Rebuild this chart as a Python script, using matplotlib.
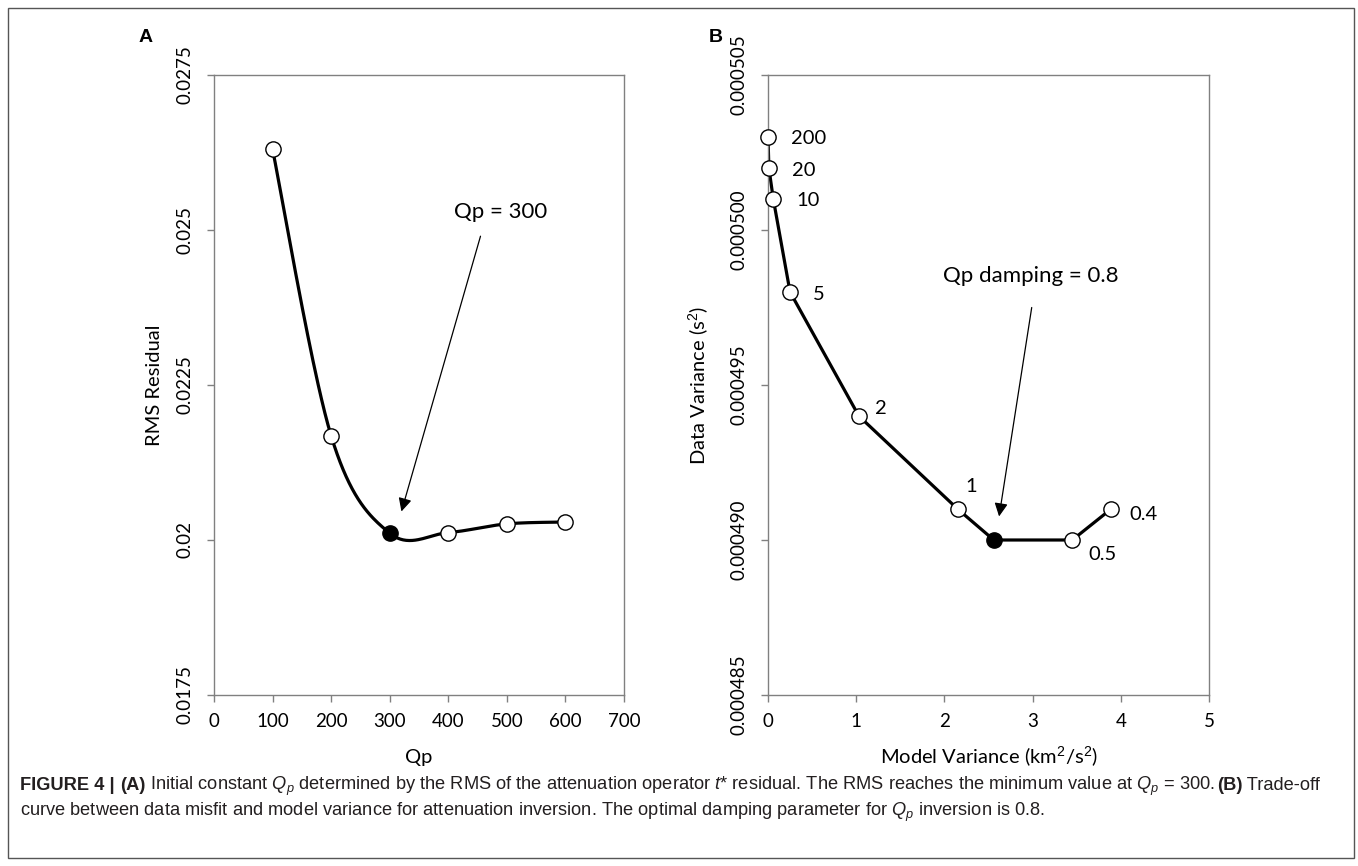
import matplotlib
matplotlib.use("Agg")
import matplotlib.pyplot as plt
import numpy as np
from matplotlib.patches import Rectangle

# ---------------- data ----------------
qp_values = [100, 200, 300, 400, 500, 600]
rms_residual = [0.0263, 0.02168, 0.02011, 0.02012, 0.02026, 0.02029]
qp_best_index = 2

model_variance = [0.0, 0.01, 0.06, 0.25, 1.03, 2.15, 2.56, 3.45, 3.89]
data_variance = [0.000503, 0.000502, 0.000501, 0.000498, 0.000494,
                 0.000491, 0.000490, 0.000490, 0.000491]
damping_labels = ['200', '20', '10', '5', '2', '1', '0.8', '0.5', '0.4']
damping_best_index = 6

a_xticks = [0, 100, 200, 300, 400, 500, 600, 700]
a_yticks = [0.0175, 0.02, 0.0225, 0.025, 0.0275]
a_yticklabels = ['0.0175', '0.02', '0.0225', '0.025', '0.0275']
b_xticks = [0, 1, 2, 3, 4, 5]
b_yticks = [0.000485, 0.000490, 0.000495, 0.000500, 0.000505]
b_yticklabels = ['0.000485', '0.000490', '0.000495', '0.000500', '0.000505']

caption_line1 = [("FIGURE 4 | ", True), ("(A)", True),
                 (" Initial constant $Q_p$ determined by the RMS of the attenuation operator $t$* residual. "
                  "The RMS reaches the minimum value at $Q_p$ = 300. ", False), ("(B)", True), (" Trade-off", False)]
caption_line2 = "curve between data misfit and model variance for attenuation inversion. The optimal damping parameter for $Q_p$ inversion is 0.8."

# ---------------- style ----------------
FONT = ['Lato', 'DejaVu Sans']
plt.rcParams['font.family'] = FONT
plt.rcParams['mathtext.fontset'] = 'custom'
plt.rcParams['mathtext.it'] = 'Liberation Sans:italic'
plt.rcParams['mathtext.rm'] = 'Liberation Sans'

SPINE = '#808080'

fig = plt.figure(figsize=(13.58, 8.66), dpi=100)
W, H = 1358, 866

def px_axes(l, t, r, b):
    return fig.add_axes([l / W, 1 - b / H, (r - l) / W, (b - t) / H])

A_L, A_R, B_L, B_R, TOP, BOT = 214, 624, 768, 1209, 75, 695
axA = px_axes(A_L, TOP, A_R, BOT)
axB = px_axes(B_L, TOP, B_R, BOT)


def catmull_rom(x, y, n=40):
    x = np.asarray(x, float); y = np.asarray(y, float)
    xs = (x - x.min()) / (x.max() - x.min())
    ys = (y - y.min()) / (y.max() - y.min())
    P = np.column_stack([xs, ys])
    P_ext = np.vstack([P[0], P, P[-1]])
    out = []
    for i in range(len(P) - 1):
        p0, p1, p2, p3 = P_ext[i], P_ext[i + 1], P_ext[i + 2], P_ext[i + 3]
        c1 = p1 + (p2 - p0) / 6
        c2 = p2 - (p3 - p1) / 6
        t = np.linspace(0, 1, n)[:, None]
        seg = (1 - t) ** 3 * p1 + 3 * (1 - t) ** 2 * t * c1 + 3 * (1 - t) * t ** 2 * c2 + t ** 3 * p2
        out.append(seg if i == 0 else seg[1:])
    S = np.vstack(out)
    return (S[:, 0] * (x.max() - x.min()) + x.min(),
            S[:, 1] * (y.max() - y.min()) + y.min())


def style_axes(ax):
    for s in ax.spines.values():
        s.set_color(SPINE)
        s.set_linewidth(1.0)
    ax.tick_params(direction='out', length=5, width=1.0, color=SPINE,
                   labelsize=13.5, labelcolor='black')
    ax.tick_params(axis='y', pad=16)
    ax.tick_params(axis='x', pad=8)
    for lab in ax.get_yticklabels():
        lab.set_rotation(90)
        lab.set_va('center')
        lab.set_ha('center')


def fig_to_axes(ax, px, py):
    # figure pixel (from top-left) -> axes fraction
    x0, x1 = ax.get_position().x0 * W, ax.get_position().x1 * W
    y0, y1 = (1 - ax.get_position().y1) * H, (1 - ax.get_position().y0) * H
    return (px - x0) / (x1 - x0), (y1 - py) / (y1 - y0)

# ---------------- panel A ----------------
sx, sy = catmull_rom(qp_values, rms_residual)
axA.plot(sx, sy, color='black', lw=2.3, zorder=2)
for i, (xv, yv) in enumerate(zip(qp_values, rms_residual)):
    fc = 'black' if i == qp_best_index else 'white'
    axA.plot([xv], [yv], marker='o', ms=11, mfc=fc, mec='black', mew=1.0, zorder=3)
axA.set_xlim(0, 700)
axA.set_ylim(0.0175, 0.0275)
axA.set_xticks(a_xticks)
axA.set_yticks(a_yticks)
axA.set_yticklabels(a_yticklabels)
style_axes(axA)
axA.set_xlabel('Qp', fontsize=14.5)
axA.set_ylabel('RMS Residual', fontsize=14.5)
axA.xaxis.set_label_coords(*fig_to_axes(axA, (A_L + A_R) / 2, 757))
axA.yaxis.set_label_coords(*fig_to_axes(axA, 154, (TOP + BOT) / 2))
axA.xaxis.label.set_va('center')
axA.yaxis.label.set_va('center')
axA.annotate('', xy=(320, 0.02046), xytext=(455, 0.0249),
             arrowprops=dict(arrowstyle='-|>', color='black', lw=0.9,
                             mutation_scale=20, shrinkA=0, shrinkB=0))
axA.text(490, 0.02529, 'Qp = 300', fontsize=16, ha='center', va='center')

# ---------------- panel B ----------------
axB.plot(model_variance, data_variance, color='black', lw=2.3, zorder=2)
for i, (xv, yv) in enumerate(zip(model_variance, data_variance)):
    fc = 'black' if i == damping_best_index else 'white'
    axB.plot([xv], [yv], marker='o', ms=11, mfc=fc, mec='black', mew=1.0,
             zorder=3, clip_on=False)
label_offsets = {0: (23, -2), 1: (23, -2), 2: (23, -2), 3: (23, -2),
                 4: (16, 7), 5: (8, 22), 7: (16, -14), 8: (18, -5)}
for i, lab in enumerate(damping_labels):
    if i not in label_offsets:
        continue
    dx, dy = label_offsets[i]
    axB.annotate(lab, (model_variance[i], data_variance[i]), xytext=(dx, dy),
                 textcoords='offset pixels', fontsize=14.5, ha='left', va='center')
axB.set_xlim(0, 5)
axB.set_ylim(0.000485, 0.000505)
axB.set_xticks(b_xticks)
axB.set_yticks(b_yticks)
axB.set_yticklabels(b_yticklabels)
style_axes(axB)
axB.set_xlabel('Model Variance (km$^{2}$/s$^{2}$)', fontsize=14.5)
axB.set_ylabel('Data Variance (s$^{2}$)', fontsize=14.5)
axB.xaxis.set_label_coords(*fig_to_axes(axB, (B_L + B_R) / 2, 757))
axB.yaxis.set_label_coords(*fig_to_axes(axB, 699, (TOP + BOT) / 2))
axB.xaxis.label.set_va('center')
axB.yaxis.label.set_va('center')
axB.annotate('', xy=(2.62, 0.00049076), xytext=(2.99, 0.0004975),
             arrowprops=dict(arrowstyle='-|>', color='black', lw=0.9,
                             mutation_scale=20, shrinkA=0, shrinkB=0))
axB.text(1.98, 0.0004985, 'Qp damping = 0.8', fontsize=16, ha='left', va='center')

# panel letters
fig.text(146 / W, 1 - 37 / H, 'A', fontsize=14, fontweight='bold',
         family=['Liberation Sans', 'DejaVu Sans'], ha='center', va='center')
fig.text(716 / W, 1 - 37 / H, 'B', fontsize=14, fontweight='bold',
         family=['Liberation Sans', 'DejaVu Sans'], ha='center', va='center')

# border
fig.add_artist(Rectangle((8 / W, 8 / H), (1354 - 8) / W, (858 - 8) / H,
                         transform=fig.transFigure, fill=False,
                         edgecolor='#555555', lw=1.0))

# caption (font size fitted so line 1 spans the same width as the reference)
CAP_FONT = ['Liberation Sans Narrow', 'Liberation Sans', 'DejaVu Sans']
CAP_COL = '#231f20'
renderer = fig.canvas.get_renderer()


def caption_width(size):
    total = 0
    for txt, bold in caption_line1:
        t = fig.text(0, 0, txt, fontsize=size, family=CAP_FONT,
                     fontweight='bold' if bold else 'normal')
        total += t.get_window_extent(renderer=renderer).width
        t.remove()
    return total

cap_size = 12.5 * (1320 - 20) / caption_width(12.5)
x = 20
y1 = 1 - 786 / H
for txt, bold in caption_line1:
    t = fig.text(x / W, y1, txt, fontsize=cap_size, family=CAP_FONT,
                 fontweight='bold' if bold else 'normal', color=CAP_COL,
                 ha='left', va='center')
    x += t.get_window_extent(renderer=renderer).width
fig.text(20 / W, 1 - 812 / H, caption_line2, fontsize=cap_size, family=CAP_FONT,
         color=CAP_COL, ha='left', va='center')

fig.savefig('out.png', dpi=100)
